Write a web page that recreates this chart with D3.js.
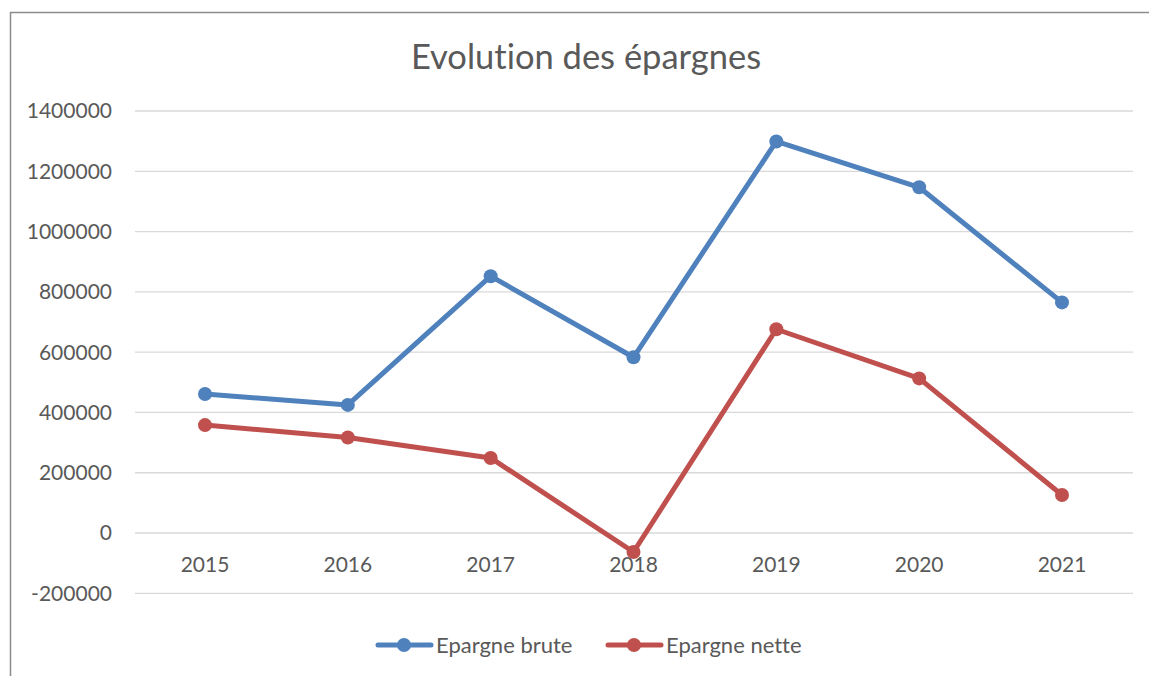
<!DOCTYPE html>
<html lang="fr">
<head>
<meta charset="UTF-8">
<script src="https://d3js.org/d3.v7.min.js"></script>
<style>
body { margin: 0; background: #fff; }
text { font-family: Lato, "Open Sans", sans-serif; fill: #595959; font-variant-ligatures: none; }
</style>
</head>
<body>
<div class="canva"></div>
<script>
const years = ["2015", "2016", "2017", "2018", "2019", "2020", "2021"];
const brute = [461000, 425000, 852000, 583000, 1299000, 1147000, 765000];
const nette = [358000, 317000, 249000, -63000, 676000, 513000, 126000];
const yTicks = [-200000, 0, 200000, 400000, 600000, 800000, 1000000, 1200000, 1400000];
const seriesNames = ["Epargne brute", "Epargne nette"];
const colors = ["#4F81BD", "#C0504D"];

const width = 1149, height = 676;

const svg = d3.select(".canva").append("svg")
  .attr("width", width)
  .attr("height", height);

// chart border (top + left visible)
svg.append("rect")
  .attr("x", 10.5).attr("y", 12.5)
  .attr("width", 1160).attr("height", 700)
  .attr("fill", "none")
  .attr("stroke", "#8c8c8c")
  .attr("stroke-width", 1.5);

const x = d3.scalePoint()
  .domain(years)
  .range([205, 1062]);

const y = d3.scaleLinear()
  .domain([-200000, 1400000])
  .range([593.3, 111]);

// grid
svg.append("g")
  .selectAll("line")
  .data(yTicks)
  .join("line")
  .attr("x1", 135).attr("x2", 1133)
  .attr("y1", d => y(d)).attr("y2", d => y(d))
  .attr("stroke", "#d9d9d9")
  .attr("stroke-width", 1.3);

// y labels
svg.append("g")
  .selectAll("text")
  .data(yTicks)
  .join("text")
  .attr("x", 112)
  .attr("y", d => y(d))
  .attr("dy", "0.35em")
  .attr("text-anchor", "end")
  .style("font-size", "21px")
  .text(d => d);

// x labels
svg.append("g")
  .selectAll("text")
  .data(years)
  .join("text")
  .attr("x", d => x(d))
  .attr("y", 565)
  .attr("dy", "0.35em")
  .attr("text-anchor", "middle")
  .style("font-size", "21px")
  .text(d => d);

// title
svg.append("text")
  .attr("x", 586)
  .attr("y", 57)
  .attr("dy", "0.35em")
  .attr("text-anchor", "middle")
  .style("font-size", "34.5px")
  .text("Evolution des épargnes");

const line = d3.line()
  .x((d, i) => x(years[i]))
  .y(d => y(d));

[brute, nette].forEach((vals, s) => {
  svg.append("path")
    .datum(vals)
    .attr("d", line)
    .attr("fill", "none")
    .attr("stroke", colors[s])
    .attr("stroke-width", 5)
    .attr("stroke-linejoin", "round")
    .attr("stroke-linecap", "round");

  svg.append("g")
    .selectAll("circle")
    .data(vals)
    .join("circle")
    .attr("cx", (d, i) => x(years[i]))
    .attr("cy", d => y(d))
    .attr("r", 7)
    .attr("fill", colors[s]);
});

// legend
const legendX = [376, 606];
seriesNames.forEach((name, s) => {
  const g = svg.append("g").attr("transform", `translate(${legendX[s]}, 645)`);
  g.append("line")
    .attr("x1", 2).attr("x2", 55)
    .attr("stroke", colors[s])
    .attr("stroke-width", 5)
    .attr("stroke-linecap", "round");
  g.append("circle")
    .attr("cx", 28).attr("r", 7)
    .attr("fill", colors[s]);
  g.append("text")
    .attr("x", 60)
    .attr("dy", "0.35em")
    .style("font-size", "22px")
    .text(name);
});
</script>
</body>
</html>
